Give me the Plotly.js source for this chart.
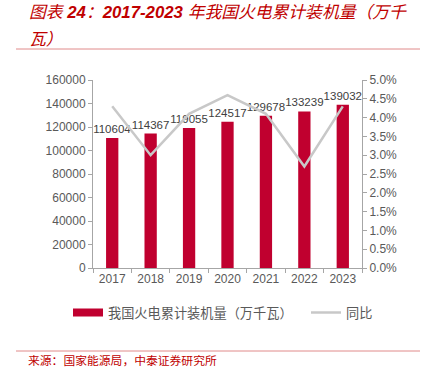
<!DOCTYPE html>
<html><head><meta charset="utf-8">
<script src="https://cdn.plot.ly/plotly-3.0.1.min.js"></script>
<style>html,body{margin:0;padding:0;background:#fff}#c{width:425px;height:368px}</style>
</head><body><div id="c"></div>
<script>
const years = ['2017','2018','2019','2020','2021','2022','2023'];
const capacity = [110604, 114367, 119055, 124517, 129678, 133239, 139032];
const yoy = [4.3, 3.0, 4.1, 4.6, 4.1, 2.7, 4.3];
const barName = '我国火电累计装机量（万千瓦）';
const lineName = '同比';
const titleLine1 = '图表 <b>24</b>：<b>2017-2023</b> 年我国火电累计装机量（万千';
const titleLine2 = '瓦）';
const sourceText = '来源：国家能源局，中泰证券研究所';

const W = 425, H = 368, L = 93, R = 63, T = 80, B = 100;
const pw = W - L - R, ph = H - T - B;
const px = x => (x - L) / pw;
const py = y => (H - B - y) / ph;

const red = '#C0002F', grey = '#C8C8C8', txt = '#595959';
const cjk = 'Liberation Sans, Arial, "Noto Sans CJK SC", sans-serif';

const traces = [
  {type:'bar', x:years, y:capacity, name:barName, showlegend:false,
   marker:{color:red}, text:capacity.map(String), textposition:'outside', constraintext:'none',
   textfont:{size:11.5, color:'#404040', family:cjk}, cliponaxis:false, hoverinfo:'skip'},
  {type:'scatter', mode:'lines', x:[null], y:[null], name:barName, legend:'legend',
   line:{color:red, width:8}, hoverinfo:'skip'},
  {type:'scatter', mode:'lines', x:years, y:yoy, name:lineName, yaxis:'y2', legend:'legend2',
   line:{color:grey, width:2.5}, hoverinfo:'skip'}
];

const legendBase = {orientation:'h', xanchor:'left', yanchor:'middle', y:py(313),
  font:{size:13.2, color:txt}, itemwidth:30, bgcolor:'rgba(0,0,0,0)'};

const layout = {
  width:W, height:H, margin:{l:L, r:R, t:T, b:B},
  paper_bgcolor:'#fff', plot_bgcolor:'#fff',
  font:{family:cjk, color:txt, size:12},
  bargap:0.68, showlegend:true,
  legend:Object.assign({}, legendBase, {x:px(68)}),
  legend2:Object.assign({}, legendBase, {x:px(306)}),
  xaxis:{type:'category', showline:true, linecolor:'#A6A6A6', linewidth:1,
         ticks:'outside', tickson:'boundaries', ticklen:4, tickcolor:'#A6A6A6',
         tickfont:{size:12, color:txt}, showgrid:false, zeroline:false, fixedrange:true},
  yaxis:{range:[0,160000], dtick:20000, tickformat:'d', showline:true, linecolor:'#A6A6A6',
         ticks:'outside', ticklen:4, tickcolor:'#A6A6A6', showgrid:false, zeroline:false,
         tickfont:{size:12, color:txt}},
  yaxis2:{range:[0,5], dtick:0.5, tickformat:'.1f', ticksuffix:'%', overlaying:'y', side:'right',
          showline:true, linecolor:'#A6A6A6', ticks:'outside', ticklen:4, tickcolor:'#A6A6A6',
          showgrid:false, zeroline:false, tickfont:{size:12, color:txt}},
  shapes:[
    {type:'line', xref:'paper', yref:'paper', x0:px(16), x1:px(420), y0:py(49), y1:py(49),
     line:{color:'#E08A8A', width:1}},
    {type:'line', xref:'paper', yref:'paper', x0:px(16), x1:px(420), y0:py(351), y1:py(351),
     line:{color:'#E08A8A', width:1}}
  ],
  annotations:[
    {xref:'paper', yref:'paper', x:px(27), y:py(13), xanchor:'left', yanchor:'middle', showarrow:false,
     text:'<i>'+titleLine1+'</i>', font:{size:16.8, color:'#C00000', family:cjk}},
    {xref:'paper', yref:'paper', x:px(27), y:py(39), xanchor:'left', yanchor:'middle', showarrow:false,
     text:'<i>'+titleLine2+'</i>', font:{size:16.8, color:'#C00000', family:cjk}},
    {xref:'paper', yref:'paper', x:px(26), y:py(361), xanchor:'left', yanchor:'middle', showarrow:false,
     text:sourceText, font:{size:11.8, color:'#C00000', family:cjk}}
  ]
};
Plotly.newPlot('c', traces, layout, {displayModeBar:false, staticPlot:true});
</script></body></html>
